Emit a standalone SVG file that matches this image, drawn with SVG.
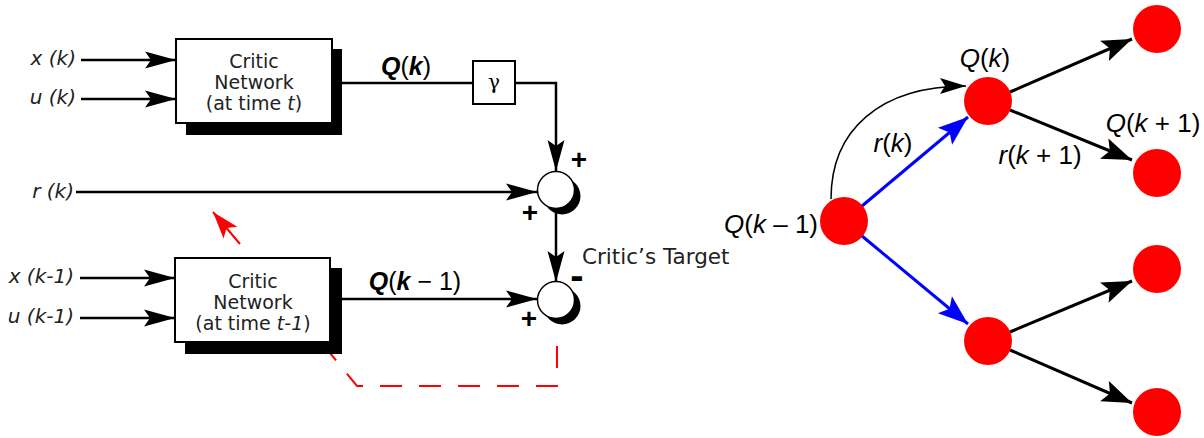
<svg xmlns="http://www.w3.org/2000/svg" width="1204" height="438" viewBox="0 0 1204 438">
<style>
.hand{font-family:"DejaVu Sans","Liberation Sans",sans-serif;font-size:19px;fill:#222}
.hi{font-family:"DejaVu Sans","Liberation Sans",sans-serif;font-size:20px;fill:#222;font-style:italic}
.m{font-family:"Liberation Sans",Arial,sans-serif;font-size:26px;fill:#000}
.mb{font-family:"Liberation Sans",Arial,sans-serif;font-size:25px;fill:#000}
.sg{font-family:"Liberation Sans",Arial,sans-serif;font-size:28px;font-weight:bold;fill:#000}
.ln{stroke:#000;stroke-width:2.5;fill:none}
.bx{fill:#fff;stroke:#000;stroke-width:2}
.sh{fill:#000}
.bl{stroke:#0000ff;stroke-width:3;fill:none}
.bk{stroke:#000;stroke-width:3;fill:none}
.nd{fill:#ff0000}
</style>
<defs>
<marker id="aL" markerUnits="userSpaceOnUse" markerWidth="34" markerHeight="20" viewBox="-32 -10 34 20" refX="0" refY="0" orient="auto">
<path d="M0,0 L-31,-8.5 L-25,0 L-31,8.5 Z" fill="#000"/>
</marker>
<marker id="aR" markerUnits="userSpaceOnUse" markerWidth="34" markerHeight="24" viewBox="-32 -12 34 24" refX="0" refY="0" orient="auto">
<path d="M0,0 L-30,-11 L-24,0 L-30,11 Z" fill="#000"/>
</marker>
<marker id="aB" markerUnits="userSpaceOnUse" markerWidth="34" markerHeight="24" viewBox="-32 -12 34 24" refX="0" refY="0" orient="auto">
<path d="M0,0 L-30,-11 L-24,0 L-30,11 Z" fill="#0000ff"/>
</marker>
<marker id="aT" markerUnits="userSpaceOnUse" markerWidth="30" markerHeight="20" viewBox="-28 -10 30 20" refX="0" refY="0" orient="auto">
<path d="M0,0 L-26,-8 L-21,0 L-26,8 Z" fill="#000"/>
</marker>
<marker id="aRed" markerUnits="userSpaceOnUse" markerWidth="30" markerHeight="22" viewBox="-28 -11 30 22" refX="0" refY="0" orient="auto">
<path d="M0,0 L-27,-9 L-21,0 L-27,9 Z" fill="#ff0000"/>
</marker>
</defs>

<!-- red feedback (behind boxes) -->
<g id="feedback">
<path d="M557,338 V386 H357 L325,347" fill="none" stroke="#ff0000" stroke-width="2" stroke-dasharray="22 17" stroke-dashoffset="-8"/>
<path d="M240,244 L213,212" fill="none" stroke="#ff0000" stroke-width="2" marker-end="url(#aRed)"/>
</g>

<g id="connectors">
<path class="ln" d="M81,60 H176" marker-end="url(#aL)"/>
<path class="ln" d="M81,99 H176" marker-end="url(#aL)"/>
<path class="ln" d="M332,83 H473"/>
<path class="ln" d="M515,83 H556 V171" marker-end="url(#aL)"/>
<path class="ln" d="M76,192 H537" marker-end="url(#aL)"/>
<path class="ln" d="M556,210 V282" marker-end="url(#aL)"/>
<path class="ln" d="M80,278 H175" marker-end="url(#aL)"/>
<path class="ln" d="M80,318 H175" marker-end="url(#aL)"/>
<path class="ln" d="M342,299 H537" marker-end="url(#aL)"/>
<!-- right tree -->
<path class="bl" d="M862,206 L968,117" marker-end="url(#aB)"/>
<path class="bl" d="M862,236 L968,324" marker-end="url(#aB)"/>
<path class="bk" d="M1010,92 L1132,39" marker-end="url(#aR)"/>
<path class="bk" d="M1010,110 L1132,160" marker-end="url(#aR)"/>
<path class="bk" d="M1010,332 L1132,281" marker-end="url(#aR)"/>
<path class="bk" d="M1010,350 L1132,403" marker-end="url(#aR)"/>
<path d="M831,199 C831,130 880,86 966,86" fill="none" stroke="#000" stroke-width="1.5" marker-end="url(#aT)"/>
</g>

<g id="critic-t">
<rect class="sh" x="186" y="49" width="156" height="86"/>
<rect class="bx" x="176" y="39" width="156" height="84"/>
<text class="hand" x="254" y="68" text-anchor="middle">Critic</text>
<text class="hand" x="254" y="89" text-anchor="middle">Network</text>
<text class="hand" x="254" y="110" text-anchor="middle">(at time <tspan font-style="italic">t</tspan>)</text>
</g>

<g id="critic-t1">
<rect class="sh" x="185" y="268" width="157" height="86"/>
<rect class="bx" x="175" y="258" width="155" height="84"/>
<text class="hand" x="253" y="288" text-anchor="middle">Critic</text>
<text class="hand" x="253" y="309" text-anchor="middle">Network</text>
<text class="hand" x="253" y="330" text-anchor="middle">(at time <tspan font-style="italic">t-1</tspan>)</text>
</g>

<g id="gamma">
<rect class="bx" x="473" y="61" width="42" height="43"/>
<text x="494" y="89" text-anchor="middle" font-family="'DejaVu Serif','Liberation Serif',serif" font-size="20">γ</text>
</g>

<g id="sum1">
<circle cx="562" cy="196" r="18.5" fill="#000"/>
<circle cx="556" cy="190" r="18.5" fill="#fff" stroke="#000" stroke-width="1.5"/>
<text class="sg" x="579" y="169" text-anchor="middle">+</text>
<text class="sg" x="530" y="222" text-anchor="middle">+</text>
</g>

<g id="sum2">
<circle cx="562" cy="306" r="18.5" fill="#000"/>
<circle cx="556" cy="300" r="18.5" fill="#fff" stroke="#000" stroke-width="1.5"/>
<text x="577" y="289" text-anchor="middle" font-family="'Liberation Sans',Arial,sans-serif" font-size="40" font-weight="bold">-</text>
<text class="sg" x="529" y="328" text-anchor="middle">+</text>
</g>

<g id="labels-left">
<text class="hi" x="76" y="65" text-anchor="end">x (k)</text>
<text class="hi" x="76" y="104" text-anchor="end">u (k)</text>
<text class="hi" x="74" y="198" text-anchor="end">r (k)</text>
<text class="hi" x="74" y="283" text-anchor="end">x (k-1)</text>
<text class="hi" x="74" y="323" text-anchor="end">u (k-1)</text>
<text class="mb" x="406" y="75" text-anchor="middle"><tspan font-weight="bold" font-style="italic">Q</tspan>(<tspan font-weight="bold" font-style="italic">k</tspan>)</text>
<text class="mb" x="415" y="290" text-anchor="middle"><tspan font-weight="bold" font-style="italic">Q</tspan>(<tspan font-weight="bold" font-style="italic">k</tspan> − 1)</text>
<text class="hand" x="582" y="264" style="font-size:21.5px">Critic’s Target</text>
</g>

<g id="n-qk1"><circle class="nd" cx="844" cy="221" r="24"/></g>
<g id="n-qk"><circle class="nd" cx="988" cy="101" r="24"/></g>
<g id="n-tr"><circle class="nd" cx="1157" cy="29" r="24"/></g>
<g id="n-qkp1"><circle class="nd" cx="1157" cy="173" r="24"/></g>
<g id="n-low"><circle class="nd" cx="988" cy="341" r="24"/></g>
<g id="n-lr1"><circle class="nd" cx="1157" cy="269" r="24"/></g>
<g id="n-lr2"><circle class="nd" cx="1157" cy="412" r="24"/></g>

<g id="labels-right">
<text class="m" x="818" y="233" text-anchor="end"><tspan font-style="italic">Q</tspan>(<tspan font-style="italic">k</tspan> – 1)</text>
<text class="m" x="985" y="67" text-anchor="middle"><tspan font-style="italic">Q</tspan>(<tspan font-style="italic">k</tspan>)</text>
<text class="m" x="893" y="152" text-anchor="middle"><tspan font-style="italic">r</tspan>(<tspan font-style="italic">k</tspan>)</text>
<text class="m" x="1153" y="132" text-anchor="middle"><tspan font-style="italic">Q</tspan>(<tspan font-style="italic">k</tspan> + 1)</text>
<text class="m" x="1040" y="164" text-anchor="middle"><tspan font-style="italic">r</tspan>(<tspan font-style="italic">k</tspan> + 1)</text>
</g>
</svg>
